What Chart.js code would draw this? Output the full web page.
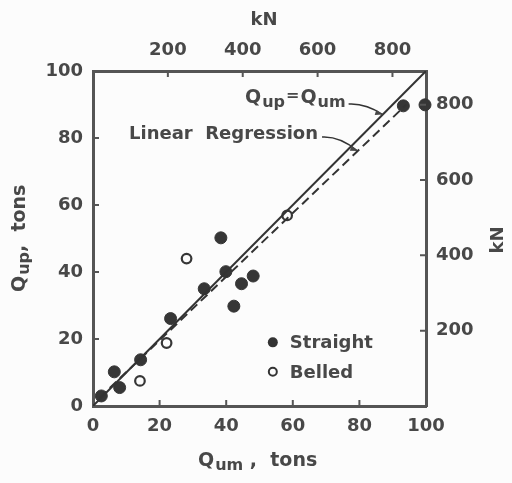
<!DOCTYPE html>
<html>
<head>
<meta charset="utf-8">
<script src="https://cdn.jsdelivr.net/npm/chart.js@4.4.1/dist/chart.umd.min.js"></script>
<style>
  html,body{margin:0;padding:0;background:#fcfcfc}
  #wrap{width:512px;height:483px}
</style>
</head>
<body>
<div id="wrap"><canvas id="chart" width="512" height="483"></canvas></div>
<script>
// values (tons); kN axes are the same scale converted
const tonTicks = [0, 20, 40, 60, 80, 100];
const kNTicks = [200, 400, 600, 800];
const KN_PER_TON = 8.896;

const straightX = [2.5, 6.4, 8.0, 14.3, 23.3, 33.4, 38.4, 39.9, 42.3, 44.6, 48.1, 93.2, 99.7];
const straightY = [3.0, 10.2, 5.5, 13.8, 26.1, 35.0, 50.2, 40.1, 29.8, 36.5, 38.8, 89.6, 89.9];
const belledX = [14.1, 22.1, 28.1, 58.3];
const belledY = [7.5, 18.8, 44.0, 56.9];

const equalX = [0, 100];
const equalY = [0, 100];
const regX = [2, 94];
const regY = [2.5, 89.9];

const ink = '#484848', line = '#333', axis = '#555';
const FONT = "'DejaVu Sans', sans-serif";

const pts = (xs, ys) => xs.map((x, i) => ({x, y: ys[i]}));
const regAt = x => regY[0] + (x - regX[0]) * (regY[1] - regY[0]) / (regX[1] - regX[0]);

// short inward tick marks on all four sides
const innerTicks = {
  id: 'innerTicks',
  afterDatasetsDraw(chart){
    const {ctx, chartArea:a, scales:s} = chart;
    ctx.save();
    ctx.strokeStyle = axis; ctx.lineWidth = 2;
    ctx.beginPath();
    tonTicks.slice(1, -1).forEach(v => {
      const px = s.x.getPixelForValue(v), py = s.y.getPixelForValue(v);
      ctx.moveTo(px, a.bottom); ctx.lineTo(px, a.bottom - 6);
      ctx.moveTo(a.left, py); ctx.lineTo(a.left + 6, py);
    });
    kNTicks.forEach(v => {
      const px = s.x2.getPixelForValue(v), py = s.y2.getPixelForValue(v);
      ctx.moveTo(px, a.top); ctx.lineTo(px, a.top + 6);
      ctx.moveTo(a.right, py); ctx.lineTo(a.right - 6, py);
    });
    ctx.stroke();
    ctx.restore();
  }
};

// writes "Q" with a subscript, returns new x
function qSub(ctx, x, y, sub, size){
  ctx.font = `bold ${size}px ${FONT}`;
  ctx.fillText('Q', x, y);
  x += ctx.measureText('Q').width + 1;
  ctx.font = `bold ${size - 3}px ${FONT}`;
  ctx.fillText(sub, x, y + 5);
  return x + ctx.measureText(sub).width;
}

function arrow(ctx, x0, y0, x1, y1){
  ctx.beginPath();
  ctx.moveTo(x0, y0);
  ctx.quadraticCurveTo((x0 + x1) / 2, y0 - 1, x1, y1);
  ctx.stroke();
  const ang = Math.atan2(y1 - y0, x1 - x0);
  ctx.beginPath();
  ctx.moveTo(x1, y1);
  ctx.lineTo(x1 - 8 * Math.cos(ang - 0.35), y1 - 8 * Math.sin(ang - 0.35));
  ctx.lineTo(x1 - 8 * Math.cos(ang + 0.35), y1 - 8 * Math.sin(ang + 0.35));
  ctx.closePath();
  ctx.fill();
}

const labels = {
  id: 'labels',
  afterDraw(chart){
    const {ctx, scales:s} = chart;
    ctx.save();
    ctx.fillStyle = ink; ctx.strokeStyle = line; ctx.lineWidth = 1.5;
    ctx.textBaseline = 'middle'; ctx.textAlign = 'left';

    // axis titles
    let x = qSub(ctx, 198, 461, 'um', 19);
    ctx.font = `bold 19px ${FONT}`;
    ctx.fillText(' ,  tons', x, 461);

    ctx.save();
    ctx.translate(20, 226); ctx.rotate(-Math.PI / 2);
    x = qSub(ctx, -66, 0, 'up', 19);
    ctx.font = `bold 19px ${FONT}`;
    ctx.fillText(',  tons', x, 0);
    ctx.restore();

    ctx.font = `bold 18px ${FONT}`;
    ctx.textAlign = 'center';
    ctx.fillText('kN', 264, 20);
    ctx.save();
    ctx.translate(498, 240); ctx.rotate(-Math.PI / 2);
    ctx.fillText('kN', 0, 0);
    ctx.restore();
    ctx.textAlign = 'left';

    // line annotations
    x = qSub(ctx, 245, 98, 'up', 19);
    ctx.font = `bold 16px ${FONT}`;
    ctx.fillText('=', x + 1, 96);
    x += ctx.measureText('=').width + 2;
    x = qSub(ctx, x, 98, 'um', 19);
    arrow(ctx, x + 3, 104, s.x.getPixelForValue(87), s.y.getPixelForValue(87));

    ctx.font = `bold 18px ${FONT}`;
    const txt = 'Linear  Regression';
    ctx.fillText(txt, 129, 134);
    const w = ctx.measureText(txt).width;
    const rx = 79.5;
    arrow(ctx, 129 + w + 4, 137, s.x.getPixelForValue(rx), s.y.getPixelForValue(regAt(rx)));

    // legend
    ctx.font = `bold 18px ${FONT}`;
    const lx = s.x.getPixelForValue(54);
    const ly1 = s.y.getPixelForValue(19), ly2 = s.y.getPixelForValue(10.2);
    ctx.beginPath(); ctx.arc(lx, ly1, 5, 0, Math.PI * 2); ctx.fillStyle = line; ctx.fill();
    ctx.beginPath(); ctx.arc(lx, ly2, 4, 0, Math.PI * 2); ctx.lineWidth = 2; ctx.stroke();
    ctx.fillStyle = ink;
    ctx.fillText('Straight', lx + 17, ly1 + 1);
    ctx.fillText('Belled', lx + 17, ly2 + 1);
    ctx.restore();
  }
};

const tickFont = {family: FONT, size: 18, weight: 'bold'};
function fixTicks(list){ return sc => { sc.ticks = list.map(v => ({value: v})); }; }
const baseAxis = {
  grid: {drawOnChartArea: false, drawTicks: false},
  border: {display: true, color: axis, width: 3},
  ticks: {font: tickFont, color: ink, padding: 10}
};

new Chart(document.getElementById('chart'), {
  type: 'scatter',
  data: {
    datasets: [
      {label: 'Qup = Qum', type: 'line', data: pts(equalX, equalY), borderColor: line,
       borderWidth: 2, pointRadius: 0, fill: false},
      {label: 'Linear Regression', type: 'line', data: pts(regX, regY), borderColor: line,
       borderWidth: 2, borderDash: [9, 5], pointRadius: 0, fill: false},
      {label: 'Straight', data: pts(straightX, straightY), backgroundColor: '#363636',
       borderColor: '#363636', pointRadius: 6, clip: false},
      {label: 'Belled', data: pts(belledX, belledY), backgroundColor: '#fcfcfc',
       borderColor: '#363636', borderWidth: 2.2, pointRadius: 4.8}
    ]
  },
  options: {
    responsive: false,
    devicePixelRatio: 1,
    animation: false,
    layout: {padding: 0},
    plugins: {legend: {display: false}, tooltip: {enabled: false}},
    scales: {
      x: {...baseAxis, type: 'linear', position: 'bottom', min: 0, max: 100,
          afterBuildTicks: fixTicks(tonTicks), afterFit: sc => { sc.height = 77; }},
      y: {...baseAxis, type: 'linear', position: 'left', min: 0, max: 100,
          afterBuildTicks: fixTicks(tonTicks), afterFit: sc => { sc.width = 93; }},
      x2: {...baseAxis, type: 'linear', position: 'top', min: 0, max: 100 * KN_PER_TON,
           afterBuildTicks: fixTicks(kNTicks), afterFit: sc => { sc.height = 71; }},
      y2: {...baseAxis, type: 'linear', position: 'right', min: 0, max: 100 * KN_PER_TON,
           afterBuildTicks: fixTicks(kNTicks), afterFit: sc => { sc.width = 86; }}
    }
  },
  plugins: [innerTicks, labels]
});
</script>
</body>
</html>
